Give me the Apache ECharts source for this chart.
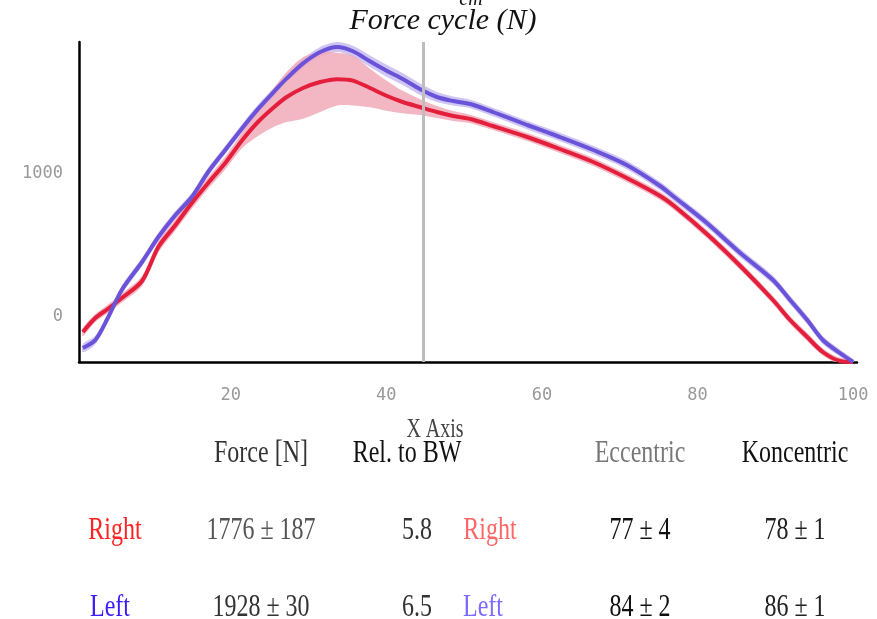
<!DOCTYPE html>
<html>
<head>
<meta charset="utf-8">
<script src="https://cdn.jsdelivr.net/npm/echarts@6/dist/echarts.min.js"></script>
<style>
html,body{margin:0;padding:0;background:#fff;}
#chart{width:877px;height:619px;}
</style>
</head>
<body>
<div id="chart"></div>
<script>
// ---- data ----
const xs = [1, 2.6, 4.2, 6, 8.6, 10.7, 12.8, 15, 17.1, 19.3, 21.5, 23.5, 25.7, 27.2, 29.3, 31.5, 33.7, 35.7, 37.9, 40.1, 42.1, 44.3, 46.5, 48.6, 50.8, 53.7, 58.1, 62.3, 66.6, 70.9, 75.2, 77, 81.2, 85.5, 89.7, 91.9, 94.1, 96.1, 98.3, 100];
const redMean = [-110, -12, 51, 128, 247, 485, 632, 793, 933, 1073, 1234, 1360, 1470, 1535, 1598, 1640, 1660, 1650, 1598, 1542, 1500, 1465, 1430, 1402, 1381, 1332, 1255, 1171, 1080, 968, 842, 772, 576, 352, 114, -26, -145, -250, -313, -320];
const redStd = [28, 28, 30, 32, 35, 38, 38, 40, 40, 45, 56, 98, 140, 175, 215, 210, 185, 175, 135, 105, 78, 56, 42, 35, 30, 28, 28, 28, 28, 28, 28, 28, 28, 28, 28, 28, 28, 25, 22, 20];
const blueMean = [-222, -166, -12, 184, 380, 555, 702, 835, 1010, 1164, 1318, 1450, 1580, 1665, 1770, 1850, 1885, 1855, 1785, 1717, 1661, 1591, 1535, 1507, 1486, 1430, 1339, 1255, 1164, 1059, 912, 835, 653, 443, 254, 114, -26, -166, -257, -320];
const blueStd = [30, 30, 30, 30, 30, 30, 30, 30, 30, 30, 30, 30, 30, 30, 32, 35, 35, 38, 40, 42, 42, 40, 35, 32, 30, 30, 30, 30, 30, 30, 30, 30, 30, 30, 30, 30, 30, 28, 25, 20];
const grayLineX = 44.7;
const xTicks = [20, 40, 60, 80, 100];
const yTicks = [0, 1000];

const titleText = 'Force cycle (N)';
const topFragment = 'cm';
const xAxisName = 'X Axis';
const tableHeaders = ['Force [N]', 'Rel. to BW', 'Eccentric', 'Koncentric'];
const rowNames = ['Right', 'Left'];
const forceVals = ['1776 ± 187', '1928 ± 30'];
const relBW = ['5.8', '6.5'];
const eccentricVals = ['77 ± 4', '84 ± 2'];
const koncentricVals = ['78 ± 1', '86 ± 1'];

// ---- chart ----
const chart = echarts.init(document.getElementById('chart'), null, {renderer: 'canvas'});

function band(mean, std, color, opacity, z) {
  return {
    type: 'custom',
    silent: true,
    clip: true,
    z: z,
    data: xs.map((x, i) => [x, mean[i] - std[i], mean[i] + std[i]]),
    encode: {x: 0, y: [1, 2]},
    renderItem: function (params, api) {
      if (params.dataIndex !== 0) return null;
      const pts = [];
      for (let i = 0; i < xs.length; i++) pts.push(api.coord([xs[i], mean[i] + std[i]]));
      for (let i = xs.length - 1; i >= 0; i--) pts.push(api.coord([xs[i], mean[i] - std[i]]));
      return {type: 'polygon', shape: {points: pts, smooth: 0.3}, style: {fill: color, opacity: opacity}};
    }
  };
}

const serif = '"Liberation Serif", "DejaVu Serif", serif';
function tall(text, cx, cy, color, size) {
  return {
    type: 'text', x: cx, y: cy, scaleX: 1, scaleY: 1.35, silent: true,
    style: {text: text, x: 0, y: 0, fill: color, font: (size || 24) + 'px ' + serif,
      textAlign: 'center', textVerticalAlign: 'middle', align: 'center', verticalAlign: 'middle'}
  };
}

const colX = [261, 407, 640, 795];
const headerColors = ['#333', '#111', '#777', '#111'];
const rowY = [530, 607];
const rowNameColors = ['#ff2222', '#3a1aff'];
const rowName2Colors = ['#ff6666', '#7a6aff'];
const rowNameX = [115, 110];
const rowName2X = [490, 483];

const graphics = [];
graphics.push({type: 'text', x: 443, y: 21, silent: true,
  style: {text: titleText, x: 0, y: 0, fill: '#111', font: 'italic 30px ' + serif,
    textAlign: 'center', textVerticalAlign: 'middle', align: 'center', verticalAlign: 'middle'}});
graphics.push({type: 'text', x: 471, y: 10, silent: true,
  style: {text: topFragment, x: 0, y: 0, fill: '#111', font: 'italic 20px ' + serif,
    textAlign: 'center', textVerticalAlign: 'bottom', align: 'center', verticalAlign: 'bottom'}});
graphics.push(tall(xAxisName, 435, 430, '#444', 20));
tableHeaders.forEach((h, i) => graphics.push(tall(h, colX[i], 453, headerColors[i])));
for (let r = 0; r < 2; r++) {
  graphics.push(tall(rowNames[r], rowNameX[r], rowY[r], rowNameColors[r]));
  graphics.push(tall(forceVals[r], colX[0], rowY[r], r === 0 ? '#555' : '#333'));
  graphics.push(tall(relBW[r], 417, rowY[r], '#333'));
  graphics.push(tall(rowNames[r], rowName2X[r], rowY[r], rowName2Colors[r]));
  graphics.push(tall(eccentricVals[r], colX[2], rowY[r], '#111'));
  graphics.push(tall(koncentricVals[r], colX[3], rowY[r], '#222'));
}

const tickLabel = {color: '#999', fontFamily: '"DejaVu Sans Mono", monospace', fontSize: 17,
  formatter: v => String(v)};

const option = {
  animation: false,
  backgroundColor: '#fff',
  grid: {left: 79, right: 20, top: 42, bottom: 257},
  xAxis: {
    type: 'value', min: 0.5, max: 100.5,
    axisLine: {show: true, onZero: false, lineStyle: {color: '#000', width: 2.5}},
    axisTick: {show: false}, splitLine: {show: false},
    axisLabel: Object.assign({customValues: xTicks, margin: 25}, tickLabel)
  },
  yAxis: {
    type: 'value', min: -320, max: 1920,
    axisLine: {show: true, onZero: false, lineStyle: {color: '#000', width: 2.5}},
    axisTick: {show: false}, splitLine: {show: false},
    axisLabel: Object.assign({customValues: yTicks, margin: 16}, tickLabel)
  },
  series: [
    band(blueMean, blueStd, '#cfc6f3', 1, 1),
    band(redMean, redStd, '#f1a9b8', 0.85, 2),
    {type: 'line', data: xs.map((x, i) => [x, redMean[i]]), smooth: 0.3, symbol: 'none', z: 3,
      lineStyle: {color: '#e31f3c', width: 4}},
    {type: 'line', data: xs.map((x, i) => [x, blueMean[i]]), smooth: 0.3, symbol: 'none', z: 4,
      lineStyle: {color: '#6a52d9', width: 4}},
    {type: 'line', data: [], z: 6,
      markLine: {silent: true, symbol: ['none', 'none'], label: {show: false},
        lineStyle: {color: '#bdbdbd', width: 3, type: 'solid'},
        data: [{xAxis: grayLineX}]}}
  ],
  graphic: graphics
};
chart.setOption(option);
</script>
</body>
</html>
